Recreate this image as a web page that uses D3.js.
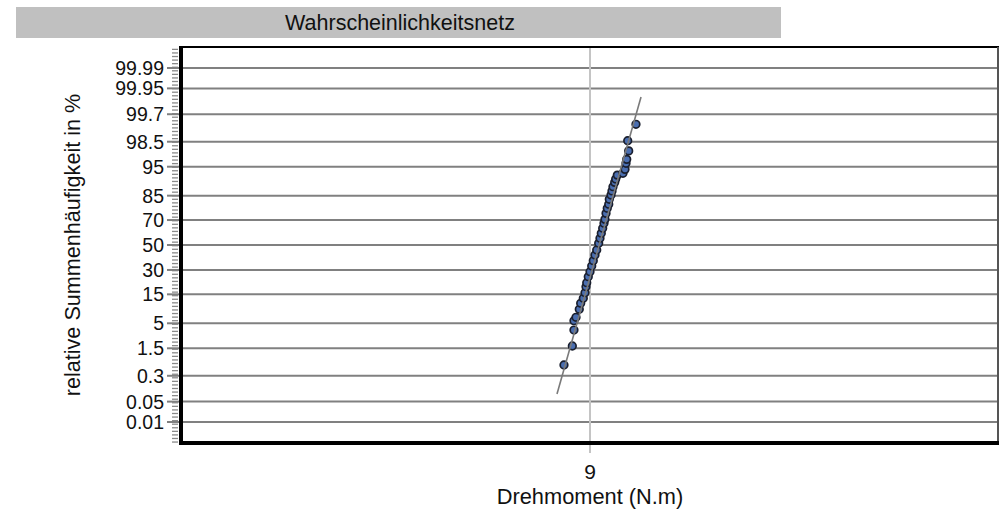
<!DOCTYPE html>
<html>
<head>
<meta charset="utf-8">
<script src="https://cdn.jsdelivr.net/npm/d3@7"></script>
<style>
  html, body { margin: 0; padding: 0; background: #ffffff; }
  svg { display: block; font-family: "Liberation Sans", Arial, sans-serif; }
</style>
</head>
<body>
<svg id="chart" width="1007" height="510"></svg>
<script>
// ---------- data ----------
const chartTitle = "Wahrscheinlichkeitsnetz";
const xTitle = "Drehmoment (N.m)";
const yTitle = "relative Summenhäufigkeit in %";
const xDomain = [8.5, 9.5];
const xTicks = [9];
const yTickPercents = [0.01, 0.05, 0.3, 1.5, 5, 15, 30, 50, 70, 85, 95, 98.5, 99.7, 99.95, 99.99];
const yTickLabels = ["0.01", "0.05", "0.3", "1.5", "5", "15", "30", "50", "70", "85", "95", "98.5", "99.7", "99.95", "99.99"];
// measured torque values (N.m)
const torque = [8.9682, 8.9784, 8.9804, 8.9804, 8.9829, 8.9869, 8.9886, 8.9918, 8.9939, 8.9951,
                8.9960, 8.9979, 9.0000, 9.0021, 9.0040, 9.0061, 9.0082, 9.0106, 9.0122, 9.0138,
                9.0155, 9.0171, 9.0183, 9.0196, 9.0211, 9.0229, 9.0236, 9.0257, 9.0269, 9.0281,
                9.0302, 9.0314, 9.0334, 9.0403, 9.0428, 9.0440, 9.0449, 9.0473, 9.0461, 9.0562];
// cumulative frequency (%) of each value
const cumPercent = [0.585, 1.69, 3.70, 5.59, 6.44, 8.84, 11.03, 13.14, 15.82, 19.05,
                    21.42, 25.27, 28.74, 32.96, 37.07, 41.68, 45.82, 51.4, 55.6, 59.7,
                    63.7, 67.6, 70.5, 74.7, 77.96, 80.4, 83.15, 85.3, 87.2, 88.97,
                    90.6, 91.7, 92.9, 93.4, 94.4, 95.7, 96.4, 97.6, 98.58, 99.44];
// fitted normal distribution line
const fitMean = 9.0112;
const fitSd = 0.01646;
const fitPercentRange = [0.087, 99.906];

// ---------- helpers ----------
function probit(p) {
  const a=[-3.969683028665376e+01,2.209460984245205e+02,-2.759285104469687e+02,1.383577518672690e+02,-3.066479806614716e+01,2.506628277459239e+00];
  const b=[-5.447609879822406e+01,1.615858368580409e+02,-1.556989798598866e+02,6.680131188771972e+01,-1.328068155288572e+01];
  const c=[-7.784894002430293e-03,-3.223964580411365e-01,-2.400758277161838e+00,-2.549732539343734e+00,4.374664141464968e+00,2.938163982698783e+00];
  const d=[7.784695709041462e-03,3.224671290700398e-01,2.445134137142996e+00,3.754408661907416e+00];
  const pl=0.02425, ph=1-pl;
  if (p < pl) { const q=Math.sqrt(-2*Math.log(p)); return (((((c[0]*q+c[1])*q+c[2])*q+c[3])*q+c[4])*q+c[5])/((((d[0]*q+d[1])*q+d[2])*q+d[3])*q+1); }
  if (p <= ph) { const q=p-0.5, r=q*q; return (((((a[0]*r+a[1])*r+a[2])*r+a[3])*r+a[4])*r+a[5])*q/(((((b[0]*r+b[1])*r+b[2])*r+b[3])*r+b[4])*r+1); }
  const q=Math.sqrt(-2*Math.log(1-p)); return -(((((c[0]*q+c[1])*q+c[2])*q+c[3])*q+c[4])*q+c[5])/((((d[0]*q+d[1])*q+d[2])*q+d[3])*q+1);
}

// ---------- layout ----------
const W = 1007, H = 510;
const plot = { left: 181, right: 999, top: 47, bottom: 443 };
const svg = d3.select("#chart");

const x = d3.scaleLinear().domain(xDomain).range([plot.left, plot.right]);
const zMax = 4.16;
const yz = d3.scaleLinear().domain([-zMax, zMax]).range([plot.bottom, plot.top]);
const y = p => yz(probit(p / 100));

svg.append("rect").attr("width", W).attr("height", H).attr("fill", "#ffffff");

// title bar
svg.append("rect").attr("x", 16).attr("y", 7).attr("width", 765).attr("height", 31).attr("fill", "#c0c0c0");
svg.append("text").attr("x", 400).attr("y", 23).attr("text-anchor", "middle").attr("dominant-baseline", "central")
  .attr("font-size", 21.5).attr("fill", "#111").text(chartTitle);

// horizontal grid
svg.append("g").selectAll("line").data(yTickPercents).join("line")
  .attr("x1", plot.left + 2).attr("x2", plot.right - 1)
  .attr("y1", d => y(d)).attr("y2", d => y(d))
  .attr("stroke", "#808080").attr("stroke-width", 2);

// vertical line at x tick
svg.append("g").selectAll("line").data(xTicks).join("line")
  .attr("x1", d => x(d)).attr("x2", d => x(d))
  .attr("y1", plot.top + 1).attr("y2", plot.bottom + 10)
  .attr("stroke", "#c4c4c4").attr("stroke-width", 2);

// minor ticks on y axis
const minorZ = d3.range(-zMax + 0.02, zMax, 0.075);
svg.append("g").selectAll("line").data(minorZ).join("line")
  .attr("x1", plot.left - 9).attr("x2", plot.left - 3)
  .attr("y1", d => yz(d)).attr("y2", d => yz(d))
  .attr("stroke", "#8a8a8a").attr("stroke-width", 1.3);

// major ticks + labels
const yAxis = svg.append("g");
yAxis.selectAll("line").data(yTickPercents).join("line")
  .attr("x1", plot.left - 14).attr("x2", plot.left - 2)
  .attr("y1", d => y(d)).attr("y2", d => y(d))
  .attr("stroke", "#808080").attr("stroke-width", 2);
yAxis.selectAll("text").data(yTickPercents).join("text")
  .attr("x", plot.left - 17).attr("y", d => y(d))
  .attr("text-anchor", "end").attr("dominant-baseline", "central")
  .attr("font-size", 19.5).attr("fill", "#111")
  .text((d, i) => yTickLabels[i]);

// frame
svg.append("line").attr("x1", plot.left).attr("x2", plot.right).attr("y1", plot.top).attr("y2", plot.top)
  .attr("stroke", "#000").attr("stroke-width", 2);
svg.append("line").attr("x1", plot.right - 1).attr("x2", plot.right - 1).attr("y1", plot.top).attr("y2", plot.bottom)
  .attr("stroke", "#555").attr("stroke-width", 2);
svg.append("line").attr("x1", plot.left).attr("x2", plot.left).attr("y1", plot.top - 1).attr("y2", plot.bottom + 2)
  .attr("stroke", "#000").attr("stroke-width", 4);
svg.append("line").attr("x1", plot.left - 2).attr("x2", plot.right).attr("y1", plot.bottom).attr("y2", plot.bottom)
  .attr("stroke", "#000").attr("stroke-width", 4);

// x tick labels
svg.append("g").selectAll("text").data(xTicks).join("text")
  .attr("x", d => x(d)).attr("y", 471)
  .attr("text-anchor", "middle").attr("dominant-baseline", "central")
  .attr("font-size", 21).attr("fill", "#111").text(d => d);

// axis titles
svg.append("text").attr("x", 590).attr("y", 496).attr("text-anchor", "middle").attr("dominant-baseline", "central")
  .attr("font-size", 21.8).attr("fill", "#111").text(xTitle);
svg.append("text").attr("transform", "translate(72,245) rotate(-90)")
  .attr("text-anchor", "middle").attr("dominant-baseline", "central")
  .attr("font-size", 21.6).attr("fill", "#111").text(yTitle);

// data points
const pts = torque.map((t, i) => ({ t, p: cumPercent[i] }));
svg.append("g").selectAll("circle").data(pts).join("circle")
  .attr("cx", d => x(d.t)).attr("cy", d => y(d.p)).attr("r", 3.8)
  .attr("fill", "#4a6eb0").attr("stroke", "#1a1f2e").attr("stroke-width", 1.7);

// fitted line
const fitPts = fitPercentRange.map(p => ({ x: fitMean + fitSd * probit(p / 100), p }));
svg.append("path").datum(fitPts)
  .attr("d", d3.line().x(d => x(d.x)).y(d => y(d.p)))
  .attr("stroke", "#7a7a7a").attr("stroke-width", 1.6).attr("fill", "none");
</script>
</body>
</html>
